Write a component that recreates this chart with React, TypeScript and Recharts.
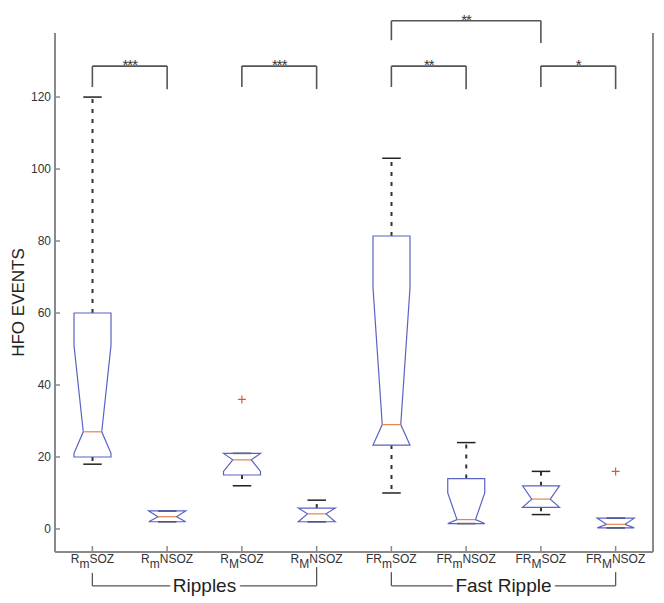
import React from "react";
import { ComposedChart, Bar, Scatter, XAxis, YAxis, ReferenceLine, Label } from "recharts";

const categories = ["R_mSOZ", "R_mNSOZ", "R_MSOZ", "R_MNSOZ", "FR_mSOZ", "FR_mNSOZ", "FR_MSOZ", "FR_MNSOZ"];
const whiskerLow = [18, 2, 12, 2, 10, 1.5, 4, 0.3];
const q1 = [20, 2, 15, 2, 23.3, 1.5, 6, 0.3];
const notchLow = [21, 2, 16, 2, 23.3, 1.5, 6, 0.3];
const median = [27, 3.4, 19.2, 4.2, 29, 2.6, 8.3, 1.3];
const notchHigh = [51, 5, 21, 5.8, 67, 10, 12, 3];
const q3 = [60, 5, 21, 5.8, 81.4, 14, 12, 3];
const whiskerHigh = [120, 5, 21, 8, 103, 24, 16, 3];
const outliers = [null, null, 36, null, null, null, null, 16];
const yTicks = [0, 20, 40, 60, 80, 100, 120];

// significance brackets: [from, to, stars, bar level, left leg end, right leg end]
const sigBrackets: [string, string, string, number, number, number][] = [
  ["R_mSOZ", "R_mNSOZ", "***", 128.6, 122.8, 122.2],
  ["R_MSOZ", "R_MNSOZ", "***", 128.6, 122.8, 122.2],
  ["FR_mSOZ", "FR_mNSOZ", "**", 128.6, 122.8, 122.2],
  ["FR_MSOZ", "FR_MNSOZ", "*", 128.6, 122.8, 122.2],
  ["FR_mSOZ", "FR_MSOZ", "**", 141.2, 135.8, 135],
];
// group brackets under the axis: [from, to, label, left leg top, right leg top]
const groups: [string, string, string, number, number][] = [
  ["R_mSOZ", "R_MNSOZ", "Ripples", -12.2, -10.6],
  ["FR_mSOZ", "FR_MNSOZ", "Fast Ripple", -12, -12],
];
const groupLevel = -15.8;

const data = categories.map((name, i) => ({
  name,
  range: [whiskerLow[i], whiskerHigh[i]],
  q1: q1[i],
  nlo: notchLow[i],
  med: median[i],
  nhi: notchHigh[i],
  q3: q3[i],
  outlier: outliers[i],
}));

const font = "'Liberation Sans', Arial, Helvetica, sans-serif";
const boxColor = "#5a62c4";
const medColor = "#e8824e";
const axisColor = "#8a8a8a";
const bracketColor = "#555";

const BoxShape = (props: any) => {
  const { x, y, width, height, payload } = props;
  const [lo, hi] = payload.range;
  const toY = (v: number) => y + ((hi - v) / (hi - lo)) * height;
  const cx = x + width / 2;
  const L = x;
  const R = x + width;
  const q = width / 4;
  const pts = [
    [L, toY(payload.q3)],
    [L, toY(payload.nhi)],
    [cx - q, toY(payload.med)],
    [L, toY(payload.nlo)],
    [L, toY(payload.q1)],
    [R, toY(payload.q1)],
    [R, toY(payload.nlo)],
    [cx + q, toY(payload.med)],
    [R, toY(payload.nhi)],
    [R, toY(payload.q3)],
  ]
    .map((p) => p.join(","))
    .join(" ");
  return (
    <g>
      {hi > payload.q3 && (
        <line x1={cx} x2={cx} y1={toY(payload.q3)} y2={toY(hi)} stroke="#333" strokeWidth={2} strokeDasharray="4 6" />
      )}
      {lo < payload.q1 && (
        <line x1={cx} x2={cx} y1={toY(payload.q1)} y2={toY(lo)} stroke="#333" strokeWidth={2} strokeDasharray="4 6" />
      )}
      <line x1={cx - q} x2={cx + q} y1={toY(hi)} y2={toY(hi)} stroke="#222" strokeWidth={1.5} />
      <line x1={cx - q} x2={cx + q} y1={toY(lo)} y2={toY(lo)} stroke="#222" strokeWidth={1.5} />
      <polygon points={pts} fill="none" stroke={boxColor} strokeWidth={1.2} />
      <line x1={cx - q} x2={cx + q} y1={toY(payload.med)} y2={toY(payload.med)} stroke={medColor} strokeWidth={1.2} />
    </g>
  );
};

const Plus = (props: any) => {
  const { cx, cy, payload } = props;
  if (payload == null || payload.outlier == null || cx == null || cy == null) return null;
  return (
    <g stroke="#e0553a" strokeWidth={1.2}>
      <line x1={cx - 4} x2={cx + 4} y1={cy} y2={cy} />
      <line x1={cx} x2={cx} y1={cy - 4} y2={cy + 4} />
    </g>
  );
};

const LeftTick = ({ x, y, payload }: any) => (
  <g>
    <line x1={x} x2={x + 5} y1={y} y2={y} stroke={axisColor} strokeWidth={1.5} />
    <text x={x - 4} y={y} dy={4} textAnchor="end" fontSize={12} fill="#333" fontFamily={font}>
      {payload.value}
    </text>
  </g>
);

const RightTick = ({ x, y }: any) => (
  <line x1={x} x2={x - 5} y1={y} y2={y} stroke={axisColor} strokeWidth={1.5} />
);

const BottomTick = ({ x, y, payload }: any) => {
  const [base, rest] = String(payload.value).split("_");
  return (
    <g>
      <line x1={x} x2={x} y1={y} y2={y - 6} stroke={axisColor} strokeWidth={1.5} />
      <text x={x} y={y + 11} textAnchor="middle" fontSize={12} fill="#333" fontFamily={font}>
        <tspan>{base}</tspan>
        <tspan dy={5}>{rest.charAt(0)}</tspan>
        <tspan dy={-5}>{rest.slice(1)}</tspan>
      </text>
    </g>
  );
};

const YTitle = (props: any) => {
  const vb = props.viewBox;
  const cx = vb.x + 10;
  const cy = vb.y + vb.height / 2 + 10;
  return (
    <text x={cx} y={cy} transform={`rotate(-90 ${cx} ${cy})`} textAnchor="middle" dominantBaseline="central" fontSize={17} fill="#222" fontFamily={font}>
      HFO EVENTS
    </text>
  );
};

const GroupLabel = (props: any) => {
  const vb = props.viewBox;
  const cx = vb.x + vb.width / 2;
  const cy = vb.y + vb.height / 2;
  return (
    <text x={cx} y={cy + 6} textAnchor="middle" fontSize={19} fill="#222" fontFamily={font} stroke="#fff" strokeWidth={8} style={{ paintOrder: "stroke" }}>
      {props.text}
    </text>
  );
};

const StarLabel = (props: any) => {
  const vb = props.viewBox;
  const cx = vb.x + vb.width / 2;
  return (
    <text x={cx} y={vb.y + 4} textAnchor="middle" fontSize={15} fill="#333" fontFamily={font} letterSpacing={-1}>
      {props.text}
    </text>
  );
};

export default function App() {
  return (
    <div style={{ width: 656, height: 595, background: "#fff" }}>
      <ComposedChart width={656} height={595} data={data} margin={{ top: 25, right: 10, bottom: 0, left: 0 }}>
        <XAxis
          dataKey="name"
          type="category"
          interval={0}
          height={51}
          tickSize={0}
          tickMargin={0}
          tickLine={false}
          axisLine={{ stroke: axisColor, strokeWidth: 2 }}
          tick={<BottomTick />}
        />
        <YAxis
          type="number"
          domain={[-6.4, 137.8]}
          ticks={yTicks}
          width={47}
          tickSize={0}
          tickMargin={0}
          tickLine={false}
          axisLine={{ stroke: axisColor, strokeWidth: 2 }}
          tick={<LeftTick />}
        >
          <Label content={<YTitle />} />
        </YAxis>
        <YAxis
          yAxisId="right"
          orientation="right"
          type="number"
          domain={[-6.4, 137.8]}
          ticks={yTicks}
          width={1}
          tickSize={0}
          tickMargin={0}
          tickLine={false}
          axisLine={{ stroke: axisColor, strokeWidth: 2 }}
          tick={<RightTick />}
        />
        <Bar dataKey="range" barSize={37} shape={<BoxShape />} isAnimationActive={false} />
        <Scatter dataKey="outlier" shape={<Plus />} isAnimationActive={false} />
        {sigBrackets.map(([a, b, stars, lvl, la, lb], i) => (
          <React.Fragment key={`sig-${i}`}>
            <ReferenceLine segment={[{ x: a, y: lvl }, { x: b, y: lvl }]} stroke={bracketColor} strokeWidth={1.6} ifOverflow="visible" label={<StarLabel text={stars} />} />
            <ReferenceLine segment={[{ x: a, y: lvl }, { x: a, y: la }]} stroke={bracketColor} strokeWidth={1.6} ifOverflow="visible" />
            <ReferenceLine segment={[{ x: b, y: lvl }, { x: b, y: lb }]} stroke={bracketColor} strokeWidth={1.6} ifOverflow="visible" />
          </React.Fragment>
        ))}
        {groups.map(([a, b, text, la, lb], i) => (
          <React.Fragment key={`grp-${i}`}>
            <ReferenceLine segment={[{ x: a, y: groupLevel }, { x: a, y: la }]} stroke={bracketColor} strokeWidth={1.3} ifOverflow="visible" />
            <ReferenceLine segment={[{ x: b, y: groupLevel }, { x: b, y: lb }]} stroke={bracketColor} strokeWidth={1.3} ifOverflow="visible" />
            <ReferenceLine segment={[{ x: a, y: groupLevel }, { x: b, y: groupLevel }]} stroke={bracketColor} strokeWidth={1.3} ifOverflow="visible" label={<GroupLabel text={text} />} />
          </React.Fragment>
        ))}
      </ComposedChart>
    </div>
  );
}
